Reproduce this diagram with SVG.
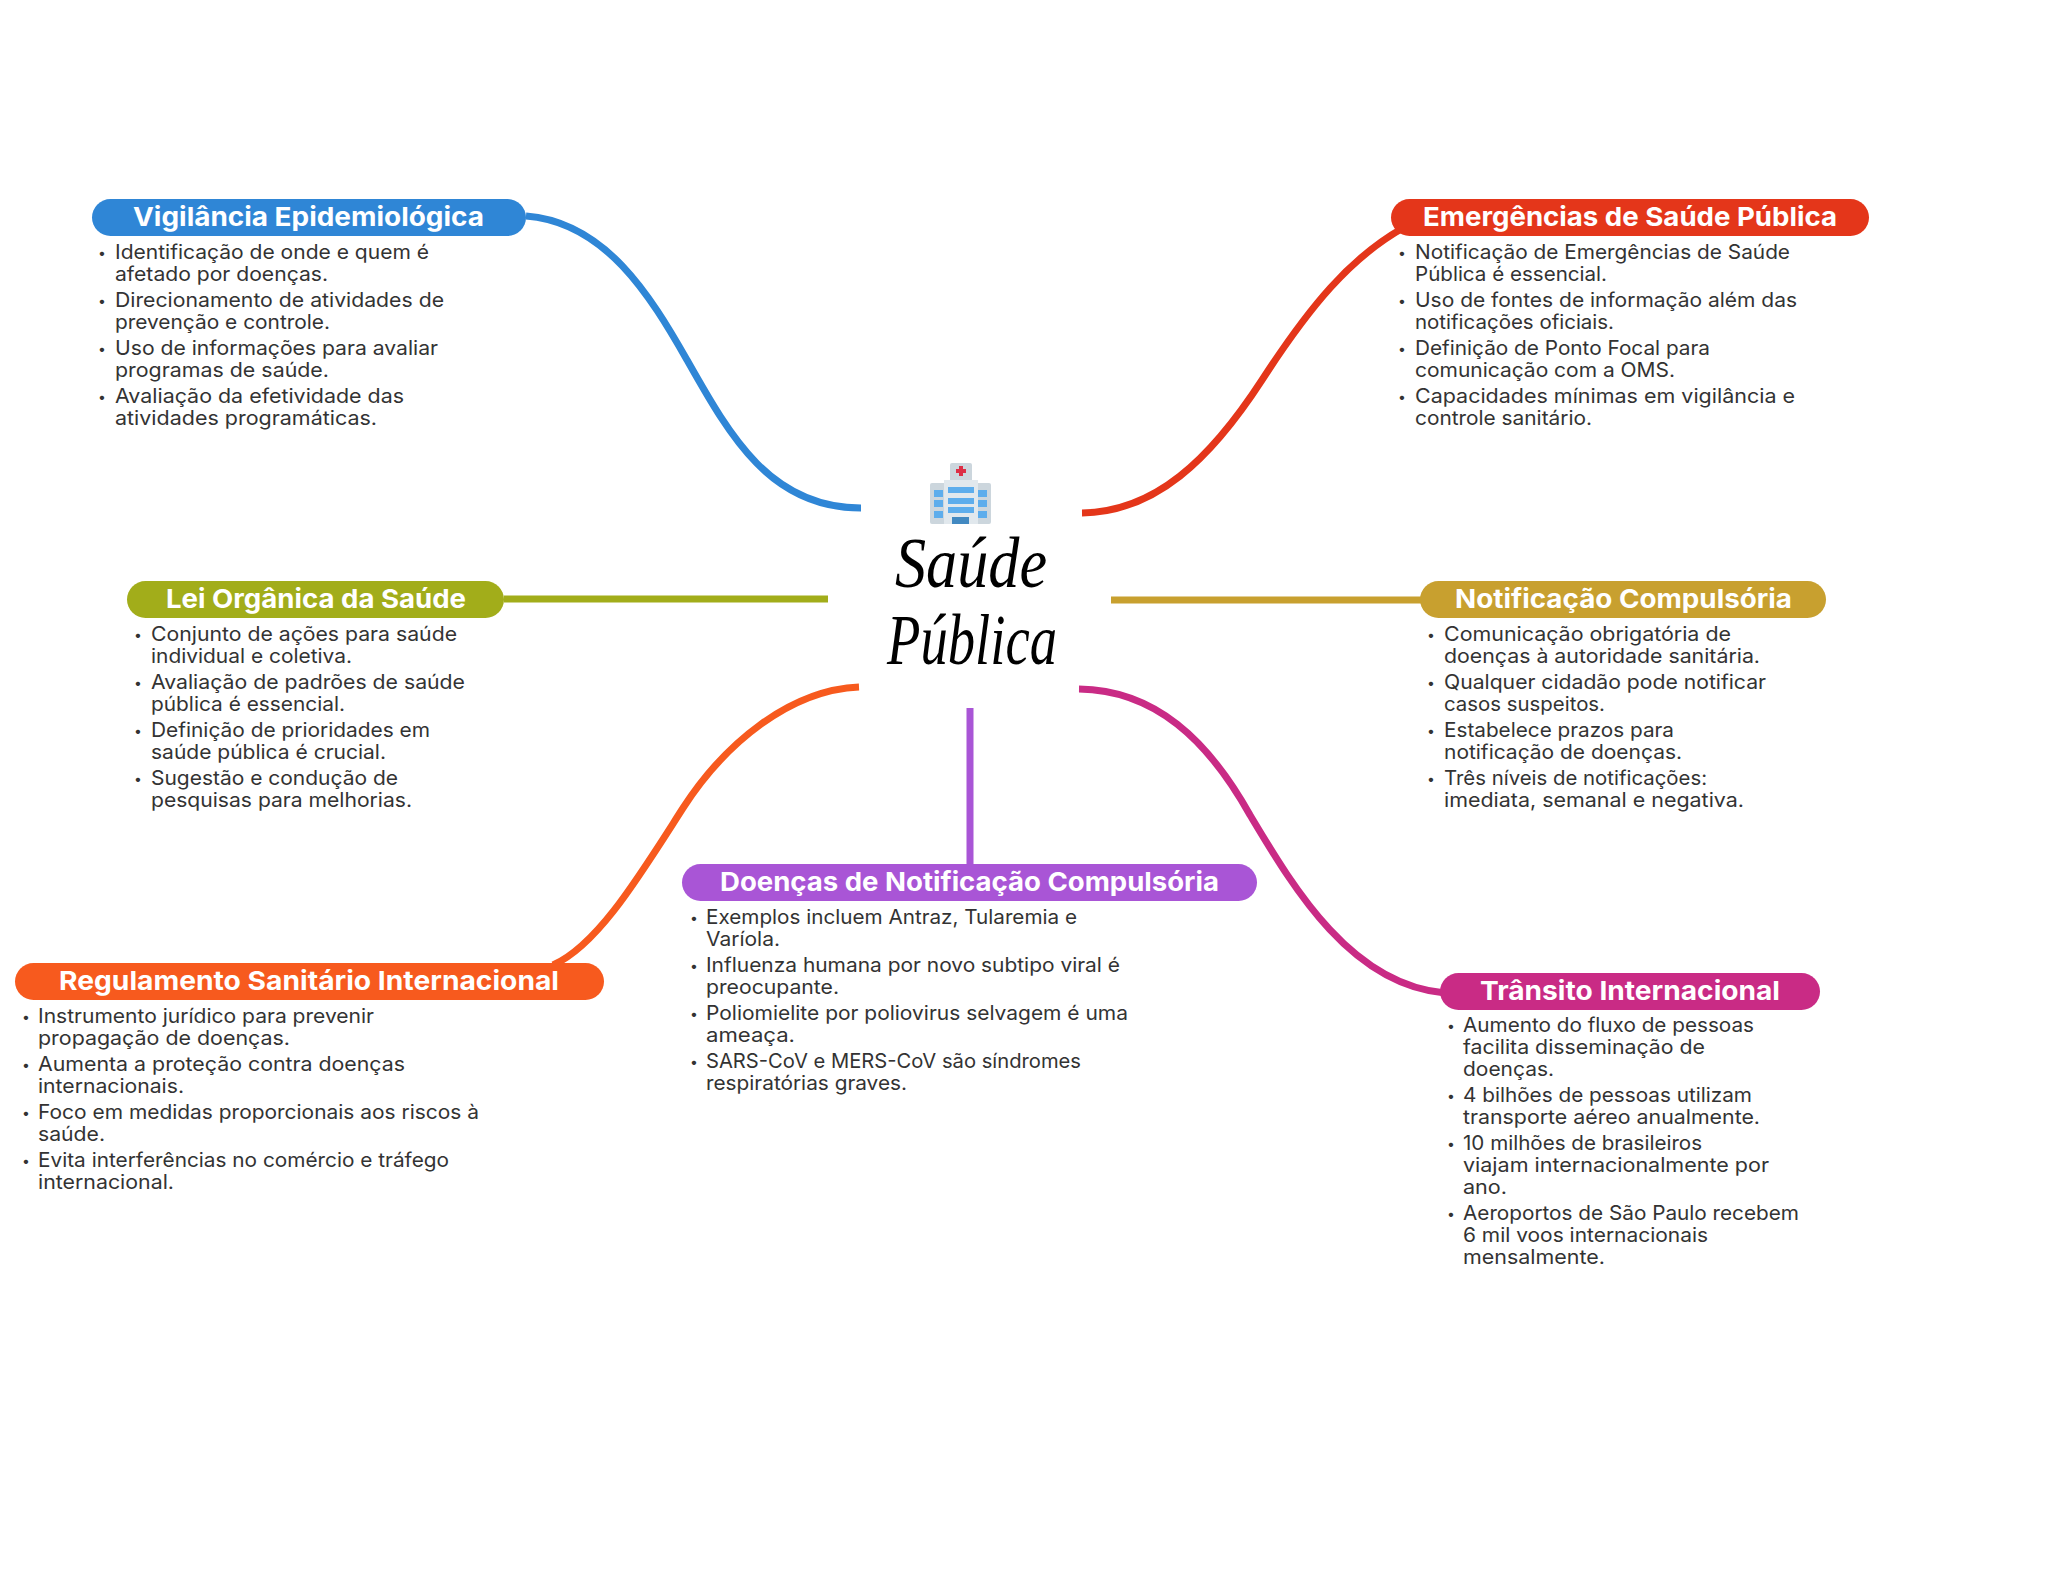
<svg xmlns="http://www.w3.org/2000/svg" width="2048" height="1569" viewBox="0 0 2048 1569">
<style>
.c{fill:none;stroke-width:7}
.h{font:700 26px Inter,"Liberation Sans",sans-serif;fill:#fff;text-anchor:middle}
.t{font:400 20px Inter,"Liberation Sans",sans-serif;fill:#333}
.b{font:400 14px Inter,"Liberation Sans",sans-serif;fill:#333;text-anchor:middle;transform:translateY(-1.5px)}
.s{font:italic 400 72px "Liberation Serif",serif;fill:#000}
</style>
<defs><filter id="soft" x="-10%" y="-10%" width="120%" height="120%"><feGaussianBlur stdDeviation="0.6"/></filter></defs>
<rect width="2048" height="1569" fill="#fff"/>
<g id="connectors">
<path class="c" stroke="#2f86d6" d="M526 216C605 222 650 295 687 360C730 436 770 508 861 508"/>
<path class="c" stroke="#e4361a" d="M1082 513C1155 512 1210 460 1262 380C1310 306 1350 258 1403 228"/>
<path class="c" stroke="#a2ad1a" d="M504 599H828"/>
<path class="c" stroke="#c8a02f" d="M1111 600H1425"/>
<path class="c" stroke="#f75a1e" d="M859 687C790 690 725 743 683 808C640 875 598 945 553 965"/>
<path class="c" stroke="#a955d6" d="M970 708V866"/>
<path class="c" stroke="#c92b85" d="M1079 689C1155 690 1208 740 1250 815C1292 885 1350 985 1445 993"/>
</g>
<g id="central">
<g filter="url(#soft)">
<rect x="950" y="463" width="22" height="20" rx="2" fill="#ccd6dd"/>
<path d="M959 466h4v3h3v4h-3v3h-4v-3h-3v-4h3z" fill="#dd2e44"/>
<rect x="930" y="483" width="61" height="41" rx="2" fill="#ccd6dd"/>
<rect x="944" y="480" width="34" height="44" fill="#e1e8ed"/>
<path d="M948 487h26v6h-26zM948 498h26v6h-26zM948 507h26v6h-26zM934 490h9v7h-9zM934 500h9v7h-9zM934 511h9v7h-9zM978 490h9v7h-9zM978 500h9v7h-9zM978 511h9v7h-9z" fill="#5dadec"/>
<rect x="952" y="517" width="17" height="7" fill="#4289c1"/>
</g>
<text class="s" x="895" y="587" textLength="152" lengthAdjust="spacingAndGlyphs">Saúde</text>
<text class="s" x="887" y="664" textLength="170" lengthAdjust="spacingAndGlyphs">Pública</text>
</g>
<g id="vigilancia">
<rect x="92" y="199" width="434" height="37" rx="18.5" fill="#2f86d6"/>
<text class="h" x="308.500" y="226" textLength="351" lengthAdjust="spacingAndGlyphs">Vigilância Epidemiológica</text>
<text class="b" x="102" y="259">•</text><text class="t" x="115" y="259" textLength="314" lengthAdjust="spacingAndGlyphs">Identificação de onde e quem é</text>
<text class="t" x="115" y="281" textLength="213" lengthAdjust="spacingAndGlyphs">afetado por doenças.</text>
<text class="b" x="102" y="307">•</text><text class="t" x="115" y="307" textLength="329" lengthAdjust="spacingAndGlyphs">Direcionamento de atividades de</text>
<text class="t" x="115" y="329" textLength="215" lengthAdjust="spacingAndGlyphs">prevenção e controle.</text>
<text class="b" x="102" y="355">•</text><text class="t" x="115" y="355" textLength="323" lengthAdjust="spacingAndGlyphs">Uso de informações para avaliar</text>
<text class="t" x="115" y="377" textLength="214" lengthAdjust="spacingAndGlyphs">programas de saúde.</text>
<text class="b" x="102" y="403">•</text><text class="t" x="115" y="403" textLength="289" lengthAdjust="spacingAndGlyphs">Avaliação da efetividade das</text>
<text class="t" x="115" y="425" textLength="262" lengthAdjust="spacingAndGlyphs">atividades programáticas.</text>
</g>
<g id="emergencias">
<rect x="1391" y="199" width="478" height="37" rx="18.5" fill="#e4361a"/>
<text class="h" x="1630" y="226" textLength="414" lengthAdjust="spacingAndGlyphs">Emergências de Saúde Pública</text>
<text class="b" x="1402" y="259">•</text><text class="t" x="1415" y="259" textLength="375" lengthAdjust="spacingAndGlyphs">Notificação de Emergências de Saúde</text>
<text class="t" x="1415" y="281" textLength="192" lengthAdjust="spacingAndGlyphs">Pública é essencial.</text>
<text class="b" x="1402" y="307">•</text><text class="t" x="1415" y="307" textLength="382" lengthAdjust="spacingAndGlyphs">Uso de fontes de informação além das</text>
<text class="t" x="1415" y="329" textLength="199" lengthAdjust="spacingAndGlyphs">notificações oficiais.</text>
<text class="b" x="1402" y="355">•</text><text class="t" x="1415" y="355" textLength="295" lengthAdjust="spacingAndGlyphs">Definição de Ponto Focal para</text>
<text class="t" x="1415" y="377" textLength="260" lengthAdjust="spacingAndGlyphs">comunicação com a OMS.</text>
<text class="b" x="1402" y="403">•</text><text class="t" x="1415" y="403" textLength="380" lengthAdjust="spacingAndGlyphs">Capacidades mínimas em vigilância e</text>
<text class="t" x="1415" y="425" textLength="177" lengthAdjust="spacingAndGlyphs">controle sanitário.</text>
</g>
<g id="lei-organica">
<rect x="127" y="581" width="377" height="37" rx="18.5" fill="#a2ad1a"/>
<text class="h" x="316" y="608" textLength="300" lengthAdjust="spacingAndGlyphs">Lei Orgânica da Saúde</text>
<text class="b" x="138" y="641">•</text><text class="t" x="151" y="641" textLength="306" lengthAdjust="spacingAndGlyphs">Conjunto de ações para saúde</text>
<text class="t" x="151" y="663" textLength="201" lengthAdjust="spacingAndGlyphs">individual e coletiva.</text>
<text class="b" x="138" y="689">•</text><text class="t" x="151" y="689" textLength="314" lengthAdjust="spacingAndGlyphs">Avaliação de padrões de saúde</text>
<text class="t" x="151" y="711" textLength="194" lengthAdjust="spacingAndGlyphs">pública é essencial.</text>
<text class="b" x="138" y="737">•</text><text class="t" x="151" y="737" textLength="279" lengthAdjust="spacingAndGlyphs">Definição de prioridades em</text>
<text class="t" x="151" y="759" textLength="235" lengthAdjust="spacingAndGlyphs">saúde pública é crucial.</text>
<text class="b" x="138" y="785">•</text><text class="t" x="151" y="785" textLength="247" lengthAdjust="spacingAndGlyphs">Sugestão e condução de</text>
<text class="t" x="151" y="807" textLength="261" lengthAdjust="spacingAndGlyphs">pesquisas para melhorias.</text>
</g>
<g id="notificacao">
<rect x="1420" y="581" width="406" height="37" rx="18.5" fill="#c8a02f"/>
<text class="h" x="1623.500" y="608" textLength="337" lengthAdjust="spacingAndGlyphs">Notificação Compulsória</text>
<text class="b" x="1431" y="641">•</text><text class="t" x="1444" y="641" textLength="287" lengthAdjust="spacingAndGlyphs">Comunicação obrigatória de</text>
<text class="t" x="1444" y="663" textLength="316" lengthAdjust="spacingAndGlyphs">doenças à autoridade sanitária.</text>
<text class="b" x="1431" y="689">•</text><text class="t" x="1444" y="689" textLength="322" lengthAdjust="spacingAndGlyphs">Qualquer cidadão pode notificar</text>
<text class="t" x="1444" y="711" textLength="161" lengthAdjust="spacingAndGlyphs">casos suspeitos.</text>
<text class="b" x="1431" y="737">•</text><text class="t" x="1444" y="737" textLength="230" lengthAdjust="spacingAndGlyphs">Estabelece prazos para</text>
<text class="t" x="1444" y="759" textLength="238" lengthAdjust="spacingAndGlyphs">notificação de doenças.</text>
<text class="b" x="1431" y="785">•</text><text class="t" x="1444" y="785" textLength="263" lengthAdjust="spacingAndGlyphs">Três níveis de notificações:</text>
<text class="t" x="1444" y="807" textLength="300" lengthAdjust="spacingAndGlyphs">imediata, semanal e negativa.</text>
</g>
<g id="doencas">
<rect x="682" y="864" width="575" height="37" rx="18.5" fill="#a955d6"/>
<text class="h" x="969.500" y="891" textLength="499" lengthAdjust="spacingAndGlyphs">Doenças de Notificação Compulsória</text>
<text class="b" x="694" y="924">•</text><text class="t" x="706" y="924" textLength="371" lengthAdjust="spacingAndGlyphs">Exemplos incluem Antraz, Tularemia e</text>
<text class="t" x="706" y="946" textLength="74" lengthAdjust="spacingAndGlyphs">Varíola.</text>
<text class="b" x="694" y="972">•</text><text class="t" x="706" y="972" textLength="414" lengthAdjust="spacingAndGlyphs">Influenza humana por novo subtipo viral é</text>
<text class="t" x="706" y="994" textLength="133" lengthAdjust="spacingAndGlyphs">preocupante.</text>
<text class="b" x="694" y="1020">•</text><text class="t" x="706" y="1020" textLength="422" lengthAdjust="spacingAndGlyphs">Poliomielite por poliovirus selvagem é uma</text>
<text class="t" x="706" y="1042" textLength="89" lengthAdjust="spacingAndGlyphs">ameaça.</text>
<text class="b" x="694" y="1068">•</text><text class="t" x="706" y="1068" textLength="375" lengthAdjust="spacingAndGlyphs">SARS-CoV e MERS-CoV são síndromes</text>
<text class="t" x="706" y="1090" textLength="201" lengthAdjust="spacingAndGlyphs">respiratórias graves.</text>
</g>
<g id="regulamento">
<rect x="15" y="963" width="589" height="37" rx="18.5" fill="#f75a1e"/>
<text class="h" x="309" y="990" textLength="500" lengthAdjust="spacingAndGlyphs">Regulamento Sanitário Internacional</text>
<text class="b" x="26" y="1023">•</text><text class="t" x="38" y="1023" textLength="336" lengthAdjust="spacingAndGlyphs">Instrumento jurídico para prevenir</text>
<text class="t" x="38" y="1045" textLength="252" lengthAdjust="spacingAndGlyphs">propagação de doenças.</text>
<text class="b" x="26" y="1071">•</text><text class="t" x="38" y="1071" textLength="367" lengthAdjust="spacingAndGlyphs">Aumenta a proteção contra doenças</text>
<text class="t" x="38" y="1093" textLength="146" lengthAdjust="spacingAndGlyphs">internacionais.</text>
<text class="b" x="26" y="1119">•</text><text class="t" x="38" y="1119" textLength="441" lengthAdjust="spacingAndGlyphs">Foco em medidas proporcionais aos riscos à</text>
<text class="t" x="38" y="1141" textLength="67" lengthAdjust="spacingAndGlyphs">saúde.</text>
<text class="b" x="26" y="1167">•</text><text class="t" x="38" y="1167" textLength="411" lengthAdjust="spacingAndGlyphs">Evita interferências no comércio e tráfego</text>
<text class="t" x="38" y="1189" textLength="136" lengthAdjust="spacingAndGlyphs">internacional.</text>
</g>
<g id="transito">
<rect x="1440" y="973" width="380" height="37" rx="18.5" fill="#c92b85"/>
<text class="h" x="1630" y="1000" textLength="300" lengthAdjust="spacingAndGlyphs">Trânsito Internacional</text>
<text class="b" x="1451" y="1032">•</text><text class="t" x="1463" y="1032" textLength="291" lengthAdjust="spacingAndGlyphs">Aumento do fluxo de pessoas</text>
<text class="t" x="1463" y="1054" textLength="242" lengthAdjust="spacingAndGlyphs">facilita disseminação de</text>
<text class="t" x="1463" y="1076" textLength="91" lengthAdjust="spacingAndGlyphs">doenças.</text>
<text class="b" x="1451" y="1102">•</text><text class="t" x="1463" y="1102" textLength="289" lengthAdjust="spacingAndGlyphs">4 bilhões de pessoas utilizam</text>
<text class="t" x="1463" y="1124" textLength="297" lengthAdjust="spacingAndGlyphs">transporte aéreo anualmente.</text>
<text class="b" x="1451" y="1150">•</text><text class="t" x="1463" y="1150" textLength="239" lengthAdjust="spacingAndGlyphs">10 milhões de brasileiros</text>
<text class="t" x="1463" y="1172" textLength="306" lengthAdjust="spacingAndGlyphs">viajam internacionalmente por</text>
<text class="t" x="1463" y="1194" textLength="44" lengthAdjust="spacingAndGlyphs">ano.</text>
<text class="b" x="1451" y="1220">•</text><text class="t" x="1463" y="1220" textLength="336" lengthAdjust="spacingAndGlyphs">Aeroportos de São Paulo recebem</text>
<text class="t" x="1463" y="1242" textLength="245" lengthAdjust="spacingAndGlyphs">6 mil voos internacionais</text>
<text class="t" x="1463" y="1264" textLength="142" lengthAdjust="spacingAndGlyphs">mensalmente.</text>
</g>
</svg>
